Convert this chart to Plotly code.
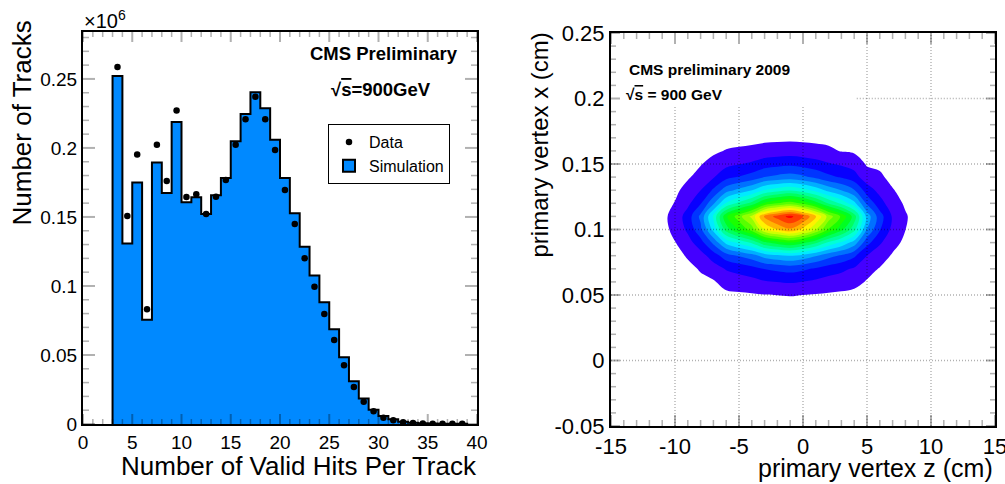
import colorsys
import plotly.graph_objects as go

W, H = 1005, 484

# ---------------- left panel data: valid hits per track ----------------
hits_bin_low = list(range(3, 39))  # bins [n, n+1)
sim_tracks_m = [0.2522, 0.1307, 0.1749, 0.0756, 0.1894, 0.1674, 0.2188, 0.1606,
                0.1643, 0.1522, 0.1657, 0.1783, 0.2048, 0.2246, 0.2403, 0.2287,
                0.2060, 0.1783, 0.1527, 0.1285, 0.1075, 0.0882, 0.0686, 0.0483,
                0.0309, 0.0184, 0.0104, 0.0058, 0.0034, 0.0017, 0.0009, 0.0005,
                0.0003, 0.0002, 0.0001, 0.0001]
data_tracks_m = [0.2587, 0.1507, 0.1952, 0.0831, 0.2024, 0.1761, 0.2271, 0.1645,
                 0.1664, 0.1522, 0.1647, 0.1768, 0.2024, 0.2208, 0.2370, 0.2208,
                 0.1986, 0.1696, 0.1449, 0.1200, 0.0995, 0.0797, 0.0609, 0.0425,
                 0.0268, 0.0162, 0.0092, 0.0046, 0.0027, 0.0013, 0.0007, 0.0004,
                 0.0002, 0.0001, 0.0001, 0.0001]
hist_xticks = [0, 5, 10, 15, 20, 25, 30, 35, 40]
hist_xticklabels = ["0", "5", "10", "15", "20", "25", "30", "35", "40"]
hist_yticks = [0, 0.05, 0.10, 0.15, 0.20, 0.25]
hist_yticklabels = ["0", "0.05", "0.1", "0.15", "0.2", "0.25"]
hist_xrange = [0, 40]
hist_yrange = [0, 0.284]

# ---------------- right panel data: primary vertex density ----------------
vtx_z = list(range(-12, 11))
vtx_x = [0.03, 0.04, 0.05, 0.06, 0.07, 0.08, 0.09, 0.10, 0.11, 0.12, 0.13,
         0.14, 0.15, 0.16, 0.17, 0.18]
vtx_density = [
    [0, 0, 0, 0, 0, 0, 0, 0, 0, 0, 0, 0, 0, 0, 0, 0, 0, 0, 0, 0, 0, 0, 0],
    [0, 0, 0.01, 0.02, 0.03, 0.05, 0.08, 0.1, 0.11, 0.14, 0.15, 0.15, 0.14, 0.13, 0.11, 0.09, 0.07, 0.04, 0.02, 0.01, 0, 0, 0],
    [0, 0.01, 0.02, 0.06, 0.11, 0.19, 0.29, 0.34, 0.39, 0.47, 0.51, 0.54, 0.5, 0.44, 0.37, 0.32, 0.26, 0.15, 0.08, 0.04, 0.02, 0, 0],
    [0, 0.02, 0.07, 0.17, 0.32, 0.40, 0.87, 1.02, 1.16, 1.4, 1.51, 1.59, 1.48, 1.31, 1.1, 0.96, 0.76, 0.43, 0.25, 0.12, 0.05, 0.01, 0],
    [0.01, 0.04, 0.13, 0.3, 0.57, 1.02, 1.58, 1.85, 2.1, 2.54, 2.73, 2.87, 2.67, 2.37, 2.0, 1.73, 1.38, 0.78, 0.45, 0.21, 0.09, 0.02, 0],
    [0.01, 0.07, 0.25, 0.58, 1.1, 1.97, 3.05, 3.57, 4.06, 4.9, 5.28, 5.54, 5.16, 4.58, 3.86, 3.34, 2.67, 1.51, 0.87, 0.41, 0.17, 0.03, 0.01],
    [0.03, 0.14, 0.47, 1.1, 2.09, 3.74, 5.78, 6.77, 7.7, 9.3, 10.01, 10.51, 9.79, 8.69, 7.32, 6.33, 5.06, 2.86, 1.65, 0.77, 0.33, 0.06, 0.01],
    [0.04, 0.21, 0.73, 1.71, 3.25, 5.81, 8.98, 10.52, 11.97, 14.45, 15.56, 16.33, 15.22, 13.51, 11.37, 9.83, 7.87, 4.45, 2.57, 1.2, 0.51, 0.09, 0.02],
    [0.05, 0.25, 0.84, 1.97, 3.74, 6.7, 10.34, 12.12, 13.79, 16.65, 17.93, 18.81, 17.53, 15.56, 13.1, 11.33, 9.06, 5.12, 2.96, 1.38, 0.59, 0.1, 0.02],
    [0.03, 0.16, 0.54, 1.26, 2.4, 4.3, 6.64, 7.77, 8.85, 10.68, 11.5, 12.07, 11.25, 9.99, 8.41, 7.27, 5.81, 3.29, 1.9, 0.89, 0.38, 0.06, 0.01],
    [0.02, 0.1, 0.33, 0.78, 1.48, 2.65, 4.09, 4.79, 5.45, 6.57, 7.08, 7.43, 6.92, 6.15, 5.17, 4.47, 3.58, 2.02, 1.17, 0.55, 0.23, 0.04, 0.01],
    [0.01, 0.05, 0.18, 0.41, 0.79, 1.41, 2.17, 2.55, 2.9, 3.5, 3.77, 3.95, 3.69, 3.27, 2.75, 2.38, 1.9, 0.9, 0.62, 0.29, 0.12, 0.02, 0],
    [0.01, 0.03, 0.1, 0.24, 0.45, 0.81, 1.25, 1.46, 1.67, 2.01, 2.17, 2.27, 2.12, 1.88, 1.58, 1.37, 1.1, 0.4, 0.36, 0.17, 0.07, 0.01, 0],
    [0, 0.01, 0.04, 0.1, 0.2, 0.35, 0.55, 0.64, 0.73, 0.88, 0.95, 0.99, 0.93, 0.82, 0.69, 0.45, 0.35, 0.27, 0.16, 0.07, 0.03, 0.01, 0],
    [0, 0, 0.01, 0.03, 0.06, 0.11, 0.16, 0.19, 0.22, 0.26, 0.28, 0.3, 0.28, 0.25, 0.21, 0.18, 0.14, 0.08, 0.05, 0.02, 0.01, 0, 0],
    [0, 0, 0, 0.01, 0.01, 0.02, 0.03, 0.04, 0.04, 0.05, 0.05, 0.06, 0.05, 0.05, 0.04, 0.03, 0.03, 0.02, 0.01, 0, 0, 0, 0],
]
n_bands = 19
vtx_zticks = [-15, -10, -5, 0, 5, 10, 15]
vtx_zticklabels = ["-15", "-10", "-5", "0", "5", "10", "15"]
vtx_xticks = [-0.05, 0, 0.05, 0.10, 0.15, 0.20, 0.25]
vtx_xticklabels = ["-0.05", "0", "0.05", "0.1", "0.15", "0.2", "0.25"]
vtx_zrange = [-15, 15]
vtx_xrange = [-0.05, 0.25]
pave_z_max = 4.2     # white label box covers the grid up to here
pave_x_min = 0.194

# minor tick steps
hist_xminor, hist_yminor = 1, 0.01
vtx_zminor, vtx_xminor = 1, 0.01

# ---------------- styling / frame geometry (pixels) ----------------
FONT = "Liberation Sans, Arial, Helvetica, sans-serif"
BLUE = "rgb(0,137,255)"
L_FRAME = (83, 477, 32, 424)    # left, right, top, bottom
R_FRAME = (611, 995, 33, 426)


def px_x(p):
    return p / W


def px_y(p):
    return (H - p) / H


def root_rainbow(k, n):
    hue = 256.0 - (k - 1) * 256.0 / (n - 1)
    r, g, b = colorsys.hls_to_rgb(hue / 360.0, 0.5, 1.0)
    return "rgb(%d,%d,%d)" % (round(r * 255), round(g * 255), round(b * 255))


colorscale = []
for k in range(0, n_bands + 1):
    c = "rgb(255,255,255)" if k == 0 else root_rainbow(k, n_bands)
    lo = max(0.0, (k - 0.5) / n_bands)
    hi = min(1.0, (k + 0.5) / n_bands)
    colorscale.append([lo, c])
    colorscale.append([hi, c])

fig = go.Figure()

step_x = [hits_bin_low[0]] + hits_bin_low + [hits_bin_low[-1] + 1]
step_y = [0] + sim_tracks_m + [0]
fig.add_trace(go.Scatter(
    x=step_x, y=step_y, mode="lines", line=dict(shape="hv", color="black", width=2),
    fill="tozeroy", fillcolor=BLUE, showlegend=False, hoverinfo="skip",
    xaxis="x", yaxis="y"))

fig.add_trace(go.Scatter(
    x=[b + 0.5 for b in hits_bin_low], y=data_tracks_m, mode="markers",
    marker=dict(color="black", size=6.5), name="Data", legendrank=1,
    xaxis="x", yaxis="y"))

fig.add_trace(go.Bar(
    x=[None], y=[None], name="Simulation", legendrank=2,
    marker=dict(color=BLUE, line=dict(color="black", width=2)),
    xaxis="x", yaxis="y"))

fig.add_trace(go.Contour(
    x=vtx_z, y=vtx_x, z=vtx_density, xaxis="x2", yaxis="y2",
    colorscale=colorscale, zmin=0, zmax=n_bands, zauto=False,
    contours=dict(start=0.5, end=n_bands - 0.5, size=1, coloring="fill"),
    line=dict(width=0, smoothing=1), showscale=False, showlegend=False,
    hoverinfo="skip"))


def axis(domain, rng, anchor, tickvals, ticktext, fsize, **kw):
    d = dict(domain=domain, range=rng, anchor=anchor, tickmode="array",
             tickvals=tickvals, ticktext=ticktext, ticks="", showline=True,
             mirror=True, linecolor="black", linewidth=2, showgrid=False,
             zeroline=False, automargin=False,
             tickfont=dict(size=fsize, family=FONT, color="black"))
    d.update(kw)
    return d


fig.update_layout(
    template="simple_white",
    width=W, height=H, margin=dict(l=0, r=0, t=0, b=0, pad=0, autoexpand=False),
    paper_bgcolor="white", plot_bgcolor="white",
    font=dict(family=FONT, color="black"),
    xaxis=axis([px_x(L_FRAME[0]), px_x(L_FRAME[1])], hist_xrange, "y",
               hist_xticks, hist_xticklabels, 19),
    yaxis=axis([px_y(L_FRAME[3]), px_y(L_FRAME[2])], hist_yrange, "x",
               hist_yticks, hist_yticklabels, 19),
    xaxis2=axis([px_x(R_FRAME[0]), px_x(R_FRAME[1])], vtx_zrange, "y2",
                vtx_zticks, vtx_zticklabels, 22, ticklabeloverflow="allow"),
    yaxis2=axis([px_y(R_FRAME[3]), px_y(R_FRAME[2])], vtx_xrange, "x2",
                vtx_xticks, vtx_xticklabels, 22),
    legend=dict(x=px_x(328), y=px_y(124), xanchor="left", yanchor="top",
                bgcolor="white", bordercolor="black", borderwidth=1,
                font=dict(size=16, family=FONT), tracegroupgap=0,
                itemwidth=30),
    barmode="overlay",
)

# dotted grid on the vertex plot (above the contour, broken by the label box)
grid_line = dict(color="black", width=1.4, dash="1px,2px")
for zt in vtx_zticks[1:-1]:
    top = vtx_xrange[1] if zt > pave_z_max else pave_x_min
    fig.add_shape(type="line", xref="x2", yref="y2", x0=zt, x1=zt,
                  y0=vtx_xrange[0], y1=top, line=grid_line, layer="above")
for xt in vtx_xticks[1:-1]:
    left = vtx_zrange[0] if xt < pave_x_min else pave_z_max
    fig.add_shape(type="line", xref="x2", yref="y2", x0=left, x1=vtx_zrange[1],
                  y0=xt, y1=xt, line=grid_line, layer="above")


# ---------------- ROOT-style inside ticks on all four sides ----------------
def steps(lo, hi, step):
    n = int(round((hi - lo) / step))
    return [round(lo + i * step, 6) for i in range(n + 1)]


def minor_of(lo, hi, step, majors):
    return [v for v in steps(lo, hi, step)
            if all(abs(v - m) > step / 10 for m in majors)]


def add_tick_shapes(xa, ya, frame, xr, yr, xvals, yvals, length, width):
    # tick length given in pixels, converted to data units of each axis
    dx = length * (xr[1] - xr[0]) / (frame[1] - frame[0])
    dy = length * (yr[1] - yr[0]) / (frame[3] - frame[2])
    tl = dict(color="black", width=width)
    for v in xvals:
        fig.add_shape(type="line", xref=xa, yref=ya, x0=v, x1=v,
                      y0=yr[0], y1=yr[0] + dy, line=tl, layer="above")
        fig.add_shape(type="line", xref=xa, yref=ya, x0=v, x1=v,
                      y0=yr[1], y1=yr[1] - dy, line=tl, layer="above")
    for v in yvals:
        fig.add_shape(type="line", xref=xa, yref=ya, y0=v, y1=v,
                      x0=xr[0], x1=xr[0] + dx, line=tl, layer="above")
        fig.add_shape(type="line", xref=xa, yref=ya, y0=v, y1=v,
                      x0=xr[1], x1=xr[1] - dx, line=tl, layer="above")


add_tick_shapes("x", "y", L_FRAME, hist_xrange, hist_yrange, hist_xticks, [], 10, 2)
add_tick_shapes("x", "y", L_FRAME, hist_xrange, hist_yrange, [], hist_yticks, 12, 2)
add_tick_shapes("x", "y", L_FRAME, hist_xrange, hist_yrange,
                minor_of(hist_xrange[0], hist_xrange[1], hist_xminor, hist_xticks), [], 5, 1.5)
add_tick_shapes("x", "y", L_FRAME, hist_xrange, hist_yrange,
                [], minor_of(0, 0.28, hist_yminor, hist_yticks), 6, 1.5)
add_tick_shapes("x2", "y2", R_FRAME, vtx_zrange, vtx_xrange, vtx_zticks, [], 11, 2)
add_tick_shapes("x2", "y2", R_FRAME, vtx_zrange, vtx_xrange, [], vtx_xticks, 9, 2)
add_tick_shapes("x2", "y2", R_FRAME, vtx_zrange, vtx_xrange,
                minor_of(vtx_zrange[0], vtx_zrange[1], vtx_zminor, vtx_zticks), [], 6, 1.5)
add_tick_shapes("x2", "y2", R_FRAME, vtx_zrange, vtx_xrange,
                [], minor_of(vtx_xrange[0], vtx_xrange[1], vtx_xminor, vtx_xticks), 5, 1.5)

ann = []
ann.append(dict(text="×10<sup>6</sup>", x=px_x(82), y=px_y(20), xref="paper", yref="paper",
                xanchor="left", yanchor="middle", showarrow=False,
                font=dict(size=20, family=FONT)))
ann.append(dict(text="<b>CMS Preliminary</b>", x=px_x(460), y=px_y(53), xref="paper",
                yref="paper", xanchor="right", yanchor="middle", showarrow=False,
                font=dict(size=18.5, family=FONT)))
ann.append(dict(text="<b>√<span style='text-decoration:overline'>s</span>=900GeV</b>",
                x=px_x(329), y=px_y(89), xref="paper", yref="paper",
                xanchor="left", yanchor="middle", showarrow=False,
                font=dict(size=18.5, family=FONT)))
ann.append(dict(text="Number of Tracks", x=px_x(21), y=px_y(19), xref="paper",
                yref="paper", xanchor="center", yanchor="top", textangle=-90,
                showarrow=False, font=dict(size=26, family=FONT)))
ann.append(dict(text="Number of Valid Hits Per Track", x=px_x(479), y=px_y(466),
                xref="paper", yref="paper", xanchor="right", yanchor="middle",
                showarrow=False, font=dict(size=26, family=FONT)))
ann.append(dict(text="<b>CMS preliminary 2009</b>", x=px_x(627), y=px_y(69),
                xref="paper", yref="paper", xanchor="left", yanchor="middle",
                showarrow=False, font=dict(size=15.5, family=FONT)))
ann.append(dict(text="<b>√<span style='text-decoration:overline'>s</span> = 900 GeV</b>",
                x=px_x(624), y=px_y(95), xref="paper", yref="paper",
                xanchor="left", yanchor="middle", showarrow=False,
                font=dict(size=15.5, family=FONT)))
ann.append(dict(text="primary vertex x (cm)", x=px_x(539), y=px_y(31), xref="paper",
                yref="paper", xanchor="center", yanchor="top", textangle=-90,
                showarrow=False, font=dict(size=24, family=FONT)))
ann.append(dict(text="primary vertex z (cm)", x=px_x(995), y=px_y(468), xref="paper",
                yref="paper", xanchor="right", yanchor="middle", showarrow=False,
                font=dict(size=25, family=FONT)))
fig.update_layout(annotations=ann)

fig.write_html("out.html")
